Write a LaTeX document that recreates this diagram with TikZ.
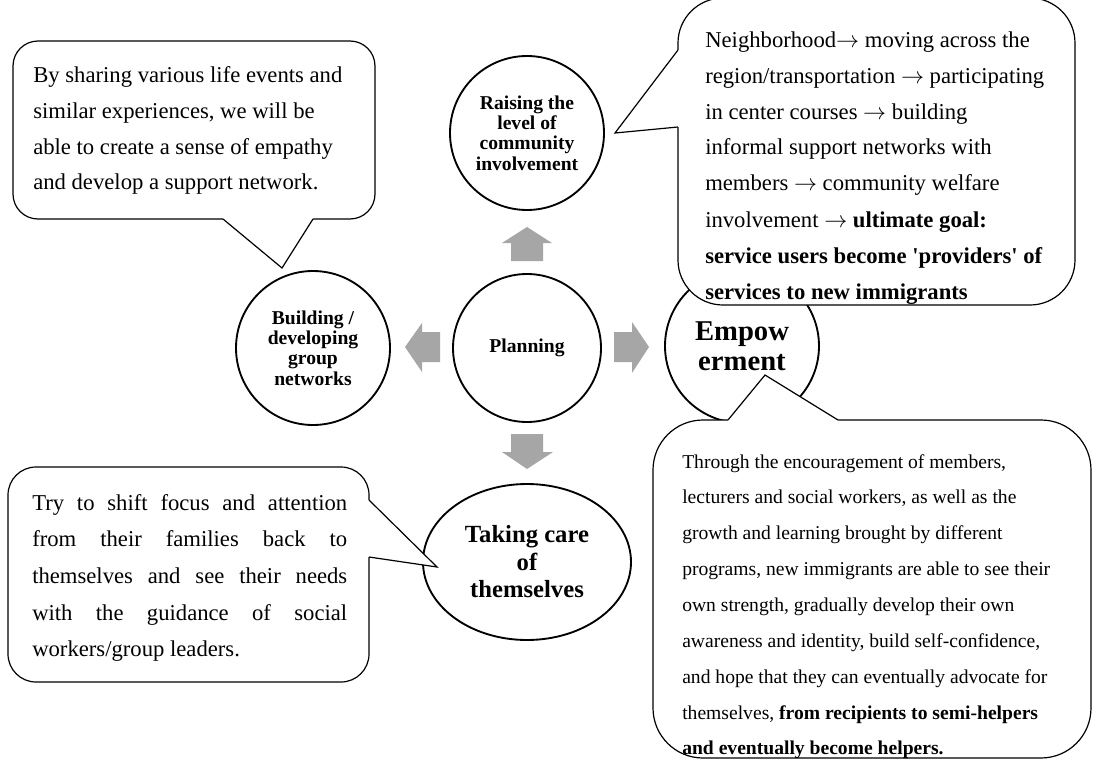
\documentclass[tikz,border=0pt]{standalone}
\usepackage{fontspec}
\setmainfont{Liberation Serif}[Ligatures=TeXOff]
\usetikzlibrary{shapes.geometric}
\definecolor{arrowgray}{RGB}{166,166,166}
\newcommand\lineL[1]{\hbox{#1}}
\newcommand\lineJ[1]{\hbox to \hsize{#1}}
\newcommand\rarr{$\rightarrow$}
\begin{document}
\begin{tikzpicture}[x=0.75pt,y=-0.75pt,
  bubble/.style={circle, draw, line width=1.4pt, fill=white, inner sep=0pt,
    minimum size=115.5pt, align=center, font=\fontsize{14.7}{15.2}\selectfont\bfseries},
  callout/.style={draw, line width=0.9pt, fill=white},
  tipfill/.style={fill=white, draw=none},
  tipline/.style={line width=0.9pt, line join=miter},
  blockarrow/.style={fill=arrowgray, draw=none},
  ctext/.style={anchor=base west, inner sep=0pt},
]
\clip (0,0) rectangle (1093,760);
\fill[white] (0,0) rectangle (1093,760);

% circles
\node[bubble] (raise) at (527,133) {Raising the\\level of\\community\\involvement};
\node[bubble] (build) at (313,348) {Building /\\developing\\group\\networks};
\node[bubble, minimum size=111pt] (plan) at (527,348) {Planning};
\node[bubble, font=\fontsize{21.5}{22.5}\selectfont\bfseries] (empow) at (742,346) {Empow\\erment};
\node[ellipse, draw, line width=1.4pt, fill=white, inner sep=0pt, minimum width=156pt,
  minimum height=117pt, align=center, font=\fontsize{18.5}{20.6}\selectfont\bfseries]
  (care) at (527,562) {Taking care\\of\\themselves};

% block arrows
\fill[blockarrow] (511,261) -- (511,243) -- (502,243) -- (527,227) -- (552,243) -- (543,243) -- (543,261) -- cycle;
\fill[blockarrow] (440,332) -- (422,332) -- (422,323) -- (405,347) -- (422,372) -- (422,362) -- (440,362) -- cycle;
\fill[blockarrow] (614,332) -- (632,332) -- (632,322) -- (649,347) -- (632,373) -- (632,362) -- (614,362) -- cycle;
\fill[blockarrow] (511,434) -- (543,434) -- (543,452) -- (553,452) -- (527,469) -- (502,452) -- (511,452) -- cycle;

% top-left callout
\draw[callout, rounded corners=18.75pt] (13,41) rectangle (375,219);
\fill[tipfill] (223,219) -- (282,268) -- (313,219) -- (313,215) -- (223,215) -- cycle;
\draw[tipline] (223,219) -- (282,268) -- (313,219);

% top-right callout
\draw[callout, rounded corners=33.75pt] (678,-2) rectangle (1075,305);
\fill[tipfill] (678,50) -- (615,133) -- (678,127) -- (682,127) -- (682,50) -- cycle;
\draw[tipline] (678,50) -- (615,133) -- (678,127);

% bottom-left callout
\draw[callout, rounded corners=21pt] (8,467) rectangle (369,682);
\fill[tipfill] (369,500) -- (437,567) -- (369,557) -- (365,557) -- (365,500) -- cycle;
\draw[tipline] (369,500) -- (437,567) -- (369,557);

% bottom-right callout
\draw[callout, rounded corners=37.5pt] (653,420) rectangle (1091,758);
\fill[tipfill] (728,420) -- (765,375) -- (838,420) -- (838,424) -- (728,424) -- cycle;
\draw[tipline] (728,420) -- (765,375) -- (838,420);

% callout texts
\node[ctext] (tltext) at (33,82) {\vtop{\fontsize{17}{27}\selectfont
  \lineL{By sharing various life events and}
  \lineL{similar experiences, we will be}
  \lineL{able to create a sense of empathy}
  \lineL{and develop a support network.}}};

\node[ctext] (trtext) at (705,47) {\vtop{\fontsize{17}{27}\selectfont
  \lineL{Neighborhood\rarr{} moving across the}
  \lineL{region/transportation \rarr{} participating}
  \lineL{in center courses \rarr{} building}
  \lineL{informal support networks with}
  \lineL{members \rarr{} community welfare}
  \lineL{involvement \rarr{} \textbf{ultimate goal:}}
  \lineL{\textbf{service users become 'providers' of}}
  \lineL{\textbf{services to new immigrants}}}};

\node[ctext] (bltext) at (32,510) {\vtop{\hsize=236.25pt\fontsize{17}{27.5}\selectfont
  \lineJ{Try to shift focus and attention}
  \lineJ{from their families back to}
  \lineJ{themselves and see their needs}
  \lineJ{with the guidance of social}
  \lineL{workers/group leaders.}}};

\node[ctext] (brtext) at (682,468) {\vtop{\fontsize{14.7}{26.9}\selectfont
  \lineL{Through the encouragement of members,}
  \lineL{lecturers and social workers, as well as the}
  \lineL{growth and learning brought by different}
  \lineL{programs, new immigrants are able to see their}
  \lineL{own strength, gradually develop their own}
  \lineL{awareness and identity, build self-confidence,}
  \lineL{and hope that they can eventually advocate for}
  \lineL{themselves, \textbf{from recipients to semi-helpers}}
  \lineL{\textbf{and eventually become helpers.}}}};
\end{tikzpicture}
\end{document}
